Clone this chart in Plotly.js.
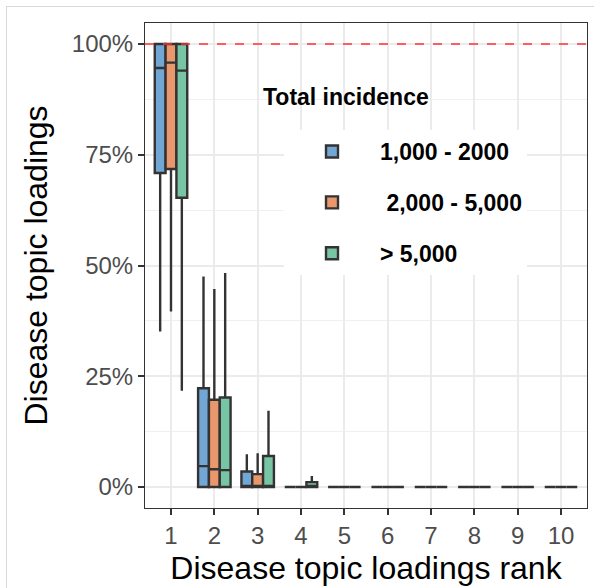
<!DOCTYPE html>
<html>
<head>
<meta charset="utf-8">
<script src="https://cdn.plot.ly/plotly-3.0.1.min.js"></script>
<style>
html,body{margin:0;padding:0;background:#fff;}
#frame{position:absolute;left:6px;top:6px;width:600px;height:600px;border-left:1px solid #d9d9d9;border-top:1px solid #d9d9d9;pointer-events:none;z-index:5;}
#chart{position:absolute;left:0;top:0;width:594px;height:588px;}
</style>
</head>
<body>
<div id="chart"></div>
<div id="frame"></div>
<script>
// Ranks (x categories)
const ranks = [1, 2, 3, 4, 5, 6, 7, 8, 9, 10];
const groupNames = ['1,000 - 2000', ' 2,000 - 5,000', '> 5,000'];
const groupColors = ['#72A6D4', '#E9976C', '#78C5A6'];

// Group 1: 1,000 - 2000
const g1_q1     = [0.709, 0, 0, 0, 0, 0, 0, 0, 0, 0];
const g1_median = [0.946, 0.047, 0.001, 0, 0, 0, 0, 0, 0, 0];
const g1_q3     = [1.000, 0.223, 0.035, 0, 0, 0, 0, 0, 0, 0];
const g1_lower  = [0.351, 0, 0, 0, 0, 0, 0, 0, 0, 0];
const g1_upper  = [1.000, 0.475, 0.074, 0, 0, 0, 0, 0, 0, 0];

// Group 2: 2,000 - 5,000
const g2_q1     = [0.718, 0, 0, 0, 0, 0, 0, 0, 0, 0];
const g2_median = [0.958, 0.040, 0.001, 0, 0, 0, 0, 0, 0, 0];
const g2_q3     = [1.000, 0.197, 0.029, 0, 0, 0, 0, 0, 0, 0];
const g2_lower  = [0.396, 0, 0, 0, 0, 0, 0, 0, 0, 0];
const g2_upper  = [1.000, 0.447, 0.076, 0, 0, 0, 0, 0, 0, 0];

// Group 3: > 5,000
const g3_q1     = [0.653, 0, 0, 0, 0, 0, 0, 0, 0, 0];
const g3_median = [0.940, 0.038, 0.002, 0, 0, 0, 0, 0, 0, 0];
const g3_q3     = [1.000, 0.202, 0.070, 0.011, 0, 0, 0, 0, 0, 0];
const g3_lower  = [0.217, 0, 0, 0, 0, 0, 0, 0, 0, 0];
const g3_upper  = [1.000, 0.483, 0.172, 0.025, 0, 0, 0, 0, 0, 0];

const yTickVals = [0, 0.25, 0.5, 0.75, 1];
const refLine = 1;

const stats = [
  [g1_q1, g1_median, g1_q3, g1_lower, g1_upper],
  [g2_q1, g2_median, g2_q3, g2_lower, g2_upper],
  [g3_q1, g3_median, g3_q3, g3_lower, g3_upper]
];

const traces = stats.map((s, i) => ({
  type: 'box',
  name: groupNames[i],
  legendgroup: 'g' + i,
  x: ranks,
  q1: s[0], median: s[1], q3: s[2], lowerfence: s[3], upperfence: s[4],
  fillcolor: groupColors[i],
  line: {color: '#333333', width: 2.4},
  whiskerwidth: 0,
  boxpoints: false,
  hoverinfo: 'skip'
}));

const layout = {
  width: 594, height: 588,
  margin: {l: 145, r: 7, t: 23, b: 80},
  paper_bgcolor: '#ffffff',
  plot_bgcolor: '#ffffff',
  font: {family: 'Liberation Sans, Arial, sans-serif', color: '#000'},
  boxmode: 'group',
  boxgap: 0.25,
  boxgroupgap: 0,
  showlegend: true,
  legend: {
    x: (284 - 145) / 442, y: (508 - 130) / 485, xanchor: 'left', yanchor: 'top',
    bgcolor: 'rgba(255,255,255,1)',
    font: {size: 23, color: '#000', family: 'Liberation Sans, Arial, sans-serif', weight: 'bold'},
    tracegroupgap: 18,
    itemwidth: 86,
    traceorder: 'grouped'
  },
  annotations: [{
    text: '<b>Total incidence</b>', xref: 'paper', yref: 'paper',
    x: (261 - 145) / 442, y: (508 - 97) / 485, xanchor: 'left', yanchor: 'middle',
    showarrow: false, font: {size: 23, color: '#000'}
  }],
  xaxis: {
    range: [0.4, 10.6],
    tickvals: ranks,
    ticktext: ranks.map(String),
    ticks: 'outside', ticklen: 6, tickwidth: 2, tickcolor: '#333333',
    tickfont: {size: 24, color: '#4d4d4d'},
    showgrid: true, gridcolor: '#ebebeb', gridwidth: 2,
    showline: true, mirror: true, linecolor: '#333333', linewidth: 1,
    zeroline: false,
    automargin: false,
    title: {text: 'Disease topic loadings rank', font: {size: 32, color: '#000'}, standoff: 8}
  },
  yaxis: {
    range: [-0.0475, 1.0475],
    tickvals: yTickVals,
    tickformat: '.0%',
    ticks: 'outside', ticklen: 6, tickwidth: 2, tickcolor: '#333333',
    tickfont: {size: 24, color: '#4d4d4d'},
    showgrid: true, gridcolor: '#ebebeb', gridwidth: 2,
    minor: {dtick: 0.125, tick0: 0, showgrid: true, gridcolor: '#f0f0f0', gridwidth: 1, ticks: ''},
    showline: true, mirror: true, linecolor: '#333333', linewidth: 1,
    zeroline: false,
    automargin: false,
    title: {text: 'Disease topic loadings', font: {size: 32, color: '#000'}, standoff: 14}
  },
  shapes: [{
    type: 'line', xref: 'paper', yref: 'y', x0: 0, x1: 1, y0: refLine, y1: refLine,
    line: {color: '#ff3030', width: 1.5, dash: 'dash'}, layer: 'above'
  }]
};

Plotly.newPlot('chart', traces, layout, {displayModeBar: false, staticPlot: true});
</script>
</body>
</html>
